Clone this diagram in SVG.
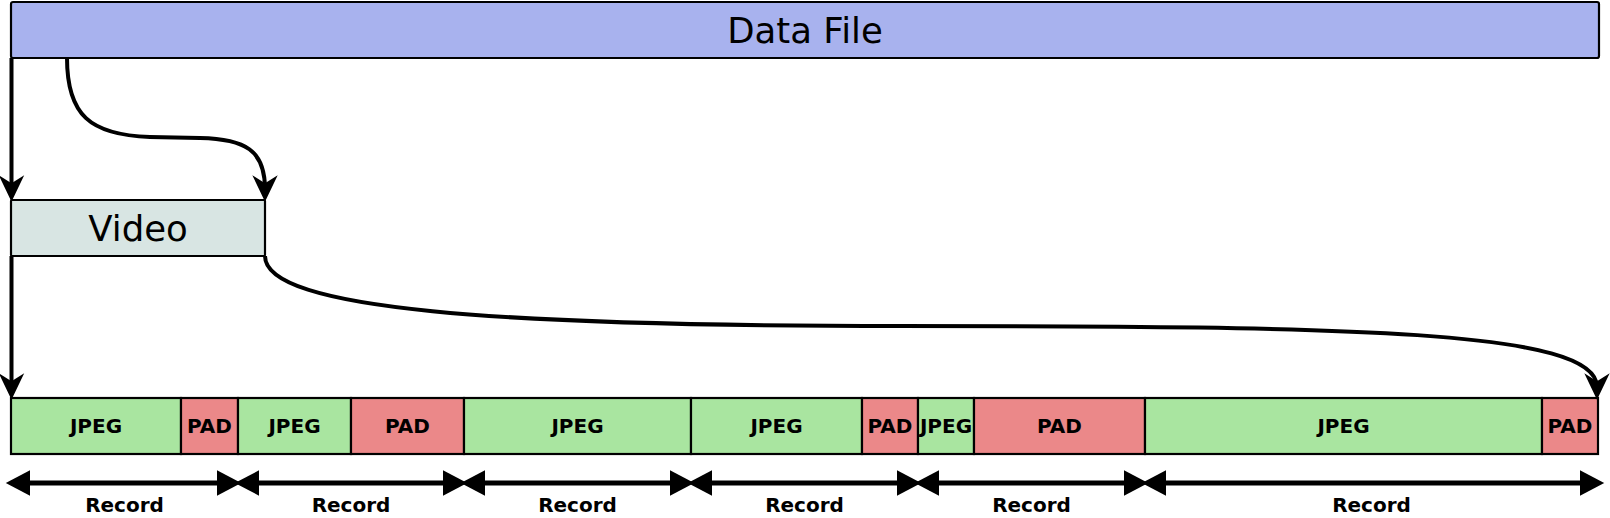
<svg xmlns="http://www.w3.org/2000/svg" width="1610" height="518" viewBox="0 0 1610 518">
  <style>
    .box { stroke: #000; stroke-width: 2.2; }
    .file { fill: #a8b2ee; }
    .video { fill: #d8e5e3; }
    .jpeg { fill: #a9e5a0; }
    .pad { fill: #eb8889; }
    .big { font-family: "DejaVu Sans", "Liberation Sans", sans-serif; font-size: 35.5px; text-anchor: middle; fill: #000; }
    .lbl { font-family: "DejaVu Sans", "Liberation Sans", sans-serif; font-size: 20px; font-weight: bold; text-anchor: middle; fill: #000; }
    .conn { fill: none; stroke: #000; stroke-width: 4; }
    .rec { fill: none; stroke: #000; stroke-width: 5; }
  </style>
  <defs>
    <marker id="ah" markerUnits="userSpaceOnUse" markerWidth="30" markerHeight="30" refX="0" refY="0" viewBox="-13 -12 26 24" orient="auto" overflow="visible">
      <path d="M11,0 L-12,-11 L-5,0 L-12,11 Z" fill="#000"/>
    </marker>
    <marker id="tri" markerUnits="userSpaceOnUse" markerWidth="30" markerHeight="30" refX="0" refY="0" viewBox="-2 -12 26 24" orient="auto-start-reverse" overflow="visible">
      <path d="M21,0 L0,-11 L0,11 Z" fill="#000"/>
    </marker>
  </defs>

  <g id="data-file">
    <rect class="box file" x="11" y="2" width="1588" height="56" rx="2"/>
    <text class="big" x="805" y="42.5">Data File</text>
  </g>

  <g id="video">
    <rect class="box video" x="11" y="200" width="254" height="56" rx="1"/>
    <text class="big" x="138" y="240.5">Video</text>
  </g>

  <g id="records-blocks">
    <g id="b1"><rect class="box jpeg" x="11" y="398" width="170" height="56"/><text class="lbl" x="96" y="433">JPEG</text></g>
    <g id="b2"><rect class="box pad" x="181" y="398" width="57" height="56"/><text class="lbl" x="209.5" y="433">PAD</text></g>
    <g id="b3"><rect class="box jpeg" x="238" y="398" width="113" height="56"/><text class="lbl" x="294.5" y="433">JPEG</text></g>
    <g id="b4"><rect class="box pad" x="351" y="398" width="113" height="56"/><text class="lbl" x="407.5" y="433">PAD</text></g>
    <g id="b5"><rect class="box jpeg" x="464" y="398" width="227" height="56"/><text class="lbl" x="577.5" y="433">JPEG</text></g>
    <g id="b6"><rect class="box jpeg" x="691" y="398" width="171" height="56"/><text class="lbl" x="776.5" y="433">JPEG</text></g>
    <g id="b7"><rect class="box pad" x="862" y="398" width="56" height="56"/><text class="lbl" x="890" y="433">PAD</text></g>
    <g id="b8"><rect class="box jpeg" x="918" y="398" width="56" height="56"/><text class="lbl" x="946" y="433">JPEG</text></g>
    <g id="b9"><rect class="box pad" x="974" y="398" width="171" height="56"/><text class="lbl" x="1059.5" y="433">PAD</text></g>
    <g id="b10"><rect class="box jpeg" x="1145" y="398" width="397" height="56"/><text class="lbl" x="1343.5" y="433">JPEG</text></g>
    <g id="b11"><rect class="box pad" x="1542" y="398" width="56" height="56"/><text class="lbl" x="1570" y="433">PAD</text></g>
  </g>

  <g id="connectors">
    <path class="conn" d="M11.5,58 L11.5,189" marker-end="url(#ah)"/>
    <path class="conn" d="M67,58 C67,115 90,135 150,137 L200,138 C245,139 265,150 265,189" marker-end="url(#ah)"/>
    <path class="conn" d="M11.5,256 L11.5,387" marker-end="url(#ah)"/>
    <path class="conn" d="M265,256 C265,310 500,326 900,326 C1350,326 1597,330 1597,387" marker-end="url(#ah)"/>
  </g>

  <g id="record-spans">
    <path class="rec" d="M30,483 L217,483" marker-start="url(#tri)" marker-end="url(#tri)"/>
    <path class="rec" d="M259,483 L443,483" marker-start="url(#tri)" marker-end="url(#tri)"/>
    <path class="rec" d="M485,483 L670,483" marker-start="url(#tri)" marker-end="url(#tri)"/>
    <path class="rec" d="M712,483 L897,483" marker-start="url(#tri)" marker-end="url(#tri)"/>
    <path class="rec" d="M939,483 L1124,483" marker-start="url(#tri)" marker-end="url(#tri)"/>
    <path class="rec" d="M1166,483 L1580,483" marker-start="url(#tri)" marker-end="url(#tri)"/>
    <text class="lbl" x="124.5" y="512">Record</text>
    <text class="lbl" x="351" y="512">Record</text>
    <text class="lbl" x="577.5" y="512">Record</text>
    <text class="lbl" x="804.5" y="512">Record</text>
    <text class="lbl" x="1031.5" y="512">Record</text>
    <text class="lbl" x="1371.5" y="512">Record</text>
  </g>
</svg>
